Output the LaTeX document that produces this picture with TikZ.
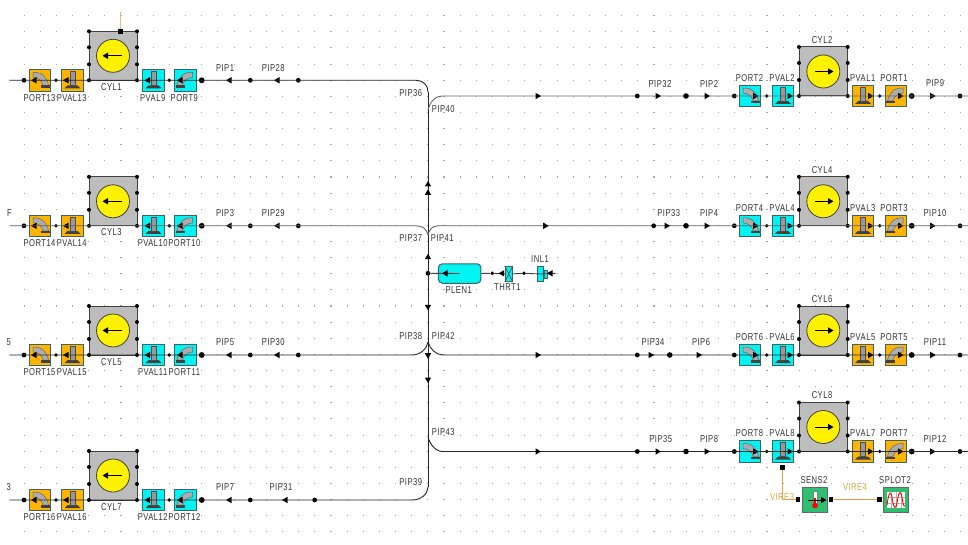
\documentclass[tikz,border=0pt]{standalone}
\usepackage{fontspec}
\setmainfont[FakeStretch=0.76,LetterSpace=5]{Liberation Sans}
\definecolor{orng}{HTML}{FFB400}
\definecolor{cyn}{HTML}{00F4F4}
\definecolor{boxedge}{HTML}{3C6464}
\definecolor{cylgrey}{HTML}{BDBDBD}
\definecolor{wiretan}{HTML}{D9A441}
\definecolor{sensgreen}{HTML}{2FBF71}
\newcommand{\tipL}[2]{\fill[black] (#1-3,#2) -- (#1+2.5,#2-3.2) -- (#1+2.5,#2+3.2) -- cycle;}
\newcommand{\tipR}[2]{\fill[black] (#1+3,#2) -- (#1-2.5,#2-3.2) -- (#1-2.5,#2+3.2) -- cycle;}
\newcommand{\tipU}[2]{\fill[black] (#1,#2-3) -- (#1-3.2,#2+2.5) -- (#1+3.2,#2+2.5) -- cycle;}
\newcommand{\tipD}[2]{\fill[black] (#1,#2+3) -- (#1-3.2,#2-2.5) -- (#1+3.2,#2-2.5) -- cycle;}
\tikzset{
  lab/.style={font=\fontsize{10}{11}\selectfont,text=black!80,inner sep=0pt},
  wlab/.style={lab,text=wiretan},
  iconbox/.style={draw=boxedge,line width=1pt,minimum size=21.5pt,inner sep=0pt},
  cylbox/.style={draw=black!75,line width=1pt,fill=cylgrey,minimum width=48pt,minimum height=49pt,inner sep=0pt},
  cylface/.style={circle,draw=black!75,line width=.8pt,fill=yellow,minimum size=33pt,inner sep=0pt},
  jdot/.style={circle,fill=black,minimum size=4.8pt,inner sep=0pt},
  bigdot/.style={circle,fill=black,minimum size=5.8pt,inner sep=0pt},
  sq/.style={rectangle,fill=black,minimum size=4.6pt,inner sep=0pt},
  pipe/.style={line width=.9pt,draw=#1},
  pipe/.default=black!85,
  wire/.style={line width=1pt,draw=wiretan},
  valveicon/.pic={
    \fill[black!75] (-8,8) -- (-5,5) -- (5,5) -- (8,8) -- cycle;
    \filldraw[fill=black!40,draw=black!70,line width=.5pt] (-2.3,-9) rectangle (2.3,5);
  },
  porticon/.pic={
    \filldraw[fill=black!32,draw=black!60,line width=.5pt] (-7,-8) .. controls (2,-8.5) and (7,-3) .. (8.5,5) -- (3,5) .. controls (2,0) and (-2,-2.5) .. (-7,-3) -- cycle;
    \fill[black!75] (1,5) rectangle (10,7.5);
  }
}
% ---------- left engine bank row
\newcommand{\bankleft}[9]{%
  \node[iconbox,fill=orng] (#2) at (40,#1+.2) {};
  \node[iconbox,fill=orng] (#3) at (72.5,#1+.2) {};
  \node[cylbox] (#4) at (113,#1-24.5) {};
  \node[iconbox,fill=cyn] (#5) at (153.5,#1+.2) {};
  \node[iconbox,fill=cyn] (#6) at (185.5,#1+.2) {};
  \pic at (40,#1) {porticon};
  \pic at (72.5,#1) {valveicon};
  \pic at (153.5,#1) {valveicon};
  \pic[xscale=-1] at (185.5,#1) {porticon};
  \foreach \sx in {89,137}{\foreach \sy in {0,16,33,49}{\fill[black] (\sx,#1-\sy) circle (2);}}
  \node[cylface] (#4f) at (113,#1-24.5) {};
  \draw[line width=1pt] (#4f.center)++(8.7,0) -- ++(-15,0);
  \tipL{105.5}{#1-24.5}
  \coordinate (#2s) at (9.3,#1);
  \node[jdot] (#2a) at (24,#1) {};
  \node[jdot,minimum size=3.8pt] (#2b) at (56,#1) {};
  \node[jdot,minimum size=3.8pt] (#5b) at (169.3,#1) {};
  \node[bigdot] (#6a) at (201.7,#1) {};
  \node[jdot] (#6b) at (250.3,#1) {};
  \node[jdot] (#6c) at ({298.3+#9*2.05},#1) {};
  \tipL{34}{#1}\tipL{66}{#1}\tipL{147.5}{#1}\tipL{180}{#1}
  \tipL{229}{#1}\tipL{277+#9}{#1}
  \node[lab] (#2l) at (39.5,#1+17.3) {#2};
  \node[lab] (#3l) at (71.7,#1+17.3) {#3};
  \node[lab] (#4l) at (111.3,#1+6.7) {#4};
  \node[lab] (#5l) at (152.7,#1+17.3) {#5};
  \node[lab] (#6l) at (184.3,#1+17.3) {#6};
  \node[lab] (#7) at (225,#1-12.7) {#7};
  \node[lab] (#8) at ({273.3+#9*.96},#1-12.7) {#8};
}
% ---------- right engine bank row
\newcommand{\bankright}[6]{%
  \node[iconbox,fill=cyn] (#2) at (750,#1+.2) {};
  \node[iconbox,fill=cyn] (#3) at (783,#1+.2) {};
  \node[cylbox] (#4) at (823.3,#1-24.5) {};
  \node[iconbox,fill=orng] (#5) at (863,#1+.2) {};
  \node[iconbox,fill=orng] (#6) at (896,#1+.2) {};
  \pic at (750,#1) {porticon};
  \pic at (783,#1) {valveicon};
  \pic at (863,#1) {valveicon};
  \pic[xscale=-1] at (896,#1) {porticon};
  \foreach \sx in {799,847.7}{\foreach \sy in {0,16,33,49}{\fill[black] (\sx,#1-\sy) circle (2);}}
  \node[cylface] (#4f) at (823.3,#1-24.5) {};
  \draw[line width=1pt] (#4f.center)++(-8.5,0) -- ++(15,0);
  \tipR{830.5}{#1-24.5}
  \node[jdot] (#2a) at (734.3,#1) {};
  \node[jdot,minimum size=3.8pt] (#2b) at (766.7,#1) {};
  \node[jdot,minimum size=3.8pt] (#5b) at (879.7,#1) {};
  \node[bigdot] (#6a) at (911.7,#1) {};
  \node[jdot] (#6b) at (960,#1) {};
  \coordinate (#6e) at (968,#1);
  \tipR{755.5}{#1}\tipR{790}{#1}\tipR{870.5}{#1}\tipR{900.5}{#1}\tipR{932.7}{#1}
  \node[lab] (#2l) at (749.5,#1-18) {#2};
  \node[lab] (#3l) at (782,#1-18) {#3};
  \node[lab] (#4l) at (822,#1-56) {#4};
  \node[lab] (#5l) at (862.7,#1-18) {#5};
  \node[lab] (#6l) at (894,#1-18) {#6};
}
\begin{document}
\begin{tikzpicture}[x=1pt,y=-1pt]
\useasboundingbox (0,0) rectangle (968,545);
\fill[white] (0,0) rectangle (968,545);
% grid
\foreach \i in {1,...,59}{\foreach \j in {1,...,33}{
  \fill[black!35] ({8+16.15*\i-.6},{16.13*\j-1}) rectangle ++(1.1,1.1);
}}
% ---- left rows
\bankleft{80.3}{PORT13}{PVAL13}{CYL1}{PVAL9}{PORT9}{PIP1}{PIP28}{0}
\bankleft{225.8}{PORT14}{PVAL14}{CYL3}{PVAL10}{PORT10}{PIP3}{PIP29}{0}
\bankleft{355}{PORT15}{PVAL15}{CYL5}{PVAL11}{PORT11}{PIP5}{PIP30}{0}
\bankleft{500}{PORT16}{PVAL16}{CYL7}{PVAL12}{PORT12}{PIP7}{PIP31}{8}
% ---- right rows
\bankright{96}{PORT2}{PVAL2}{CYL2}{PVAL1}{PORT1}
\bankright{225.8}{PORT4}{PVAL4}{CYL4}{PVAL3}{PORT3}
\bankright{355}{PORT6}{PVAL6}{CYL6}{PVAL5}{PORT5}
\bankright{451.5}{PORT8}{PVAL8}{CYL8}{PVAL7}{PORT7}
% ---- trunk junction points
\coordinate (T0) at (428,92);
\coordinate (T1) at (428,110);
\coordinate (T2) at (428,235);
\node[jdot] (Tp) at (428,273.3) {};
\coordinate (T3) at (428,342);
\coordinate (T4) at (428,437);
\coordinate (T5) at (428,487);
\draw[pipe] (T0) -- (T5);
\tipU{428}{184}\tipU{428}{192.3}\tipU{428}{256.7}\tipD{428}{307.3}\tipD{428}{355.7}\tipD{428}{380}
% ---- left pipes
\draw[pipe] (PORT13s) -- (PORT9c.center) -- (416,80.3) .. controls (423,80.3) and (428,85) .. (T0);
\draw[pipe=black!62] (PORT14s) -- (PORT10c.center) -- (416,225.8) .. controls (422,225.8) and (427,229) .. (T2);
\draw[pipe] (PORT15s) -- (PORT11c.center) -- (412,355) .. controls (420,355) and (427,349) .. (T3);
\draw[pipe] (PORT16s) -- (PORT12c.center) -- (412,500) .. controls (421,500) and (428,494) .. (T5);
% ---- right pipes
\draw[pipe=black!60] (T1) .. controls (430,102) and (435,96) .. (442,96) -- (PORT2a.center) -- (PORT1e);
\draw[pipe=black!62] (T2) .. controls (429,230) and (432,225.8) .. (438,225.8) -- (PORT4a.center) -- (PORT3e);
\draw[pipe] (T3) .. controls (430,349) and (436,355) .. (443,355) -- (PORT6a.center) -- (PORT5e);
\draw[pipe] (T4) .. controls (430,444) and (435,451.5) .. (443,451.5) -- (PORT8a.center) -- (PORT7e);
% ---- right runner dots and arrows
\node[jdot] (R1a) at (637.3,96) {}; \node[jdot,minimum size=5.6pt] (R1b) at (686,96) {};
\node[jdot] (R2a) at (653.7,225.8) {}; \node[jdot,minimum size=5.6pt] (R2b) at (686,225.8) {};
\node[jdot] (R3a) at (637.3,355) {}; \node[jdot,minimum size=5.6pt] (R3b) at (669.7,355) {};
\node[jdot] (R4a) at (637.3,451.5) {}; \node[jdot,minimum size=5.6pt] (R4b) at (686,451.5) {};
\tipR{538}{96}\tipR{658}{96}\tipR{707}{96}
\tipR{545.7}{225.8}\tipR{667}{225.8}\tipR{707}{225.8}
\tipR{538}{355}\tipR{651}{355}\tipR{699}{355}
\tipR{538}{451.5}\tipR{658}{451.5}\tipR{707}{451.5}
% ---- pipe labels
\node[lab] (PIP36) at (410.7,92.7) {PIP36};
\node[lab] (PIP40) at (443.3,109.3) {PIP40};
\node[lab] (PIP37) at (410.7,238.3) {PIP37};
\node[lab] (PIP41) at (442.3,238.3) {PIP41};
\node[lab] (PIP38) at (410.7,335.7) {PIP38};
\node[lab] (PIP42) at (443.3,335.7) {PIP42};
\node[lab] (PIP43) at (443.3,432.3) {PIP43};
\node[lab] (PIP39) at (410.7,481.7) {PIP39};
\node[lab] (PIP32) at (660,84) {PIP32};
\node[lab] (PIP2) at (709,84) {PIP2};
\node[lab] (PIP33) at (668.7,213) {PIP33};
\node[lab] (PIP4) at (709,213) {PIP4};
\node[lab] (PIP34) at (653,342) {PIP34};
\node[lab] (PIP6) at (701,342) {PIP6};
\node[lab] (PIP35) at (660.7,438.7) {PIP35};
\node[lab] (PIP8) at (709,438.7) {PIP8};
\node[lab] (PIP9) at (935,83.3) {PIP9};
\node[lab] (PIP10) at (935,213) {PIP10};
\node[lab] (PIP11) at (935,342) {PIP11};
\node[lab] (PIP12) at (935,439) {PIP12};
% clipped label ends at the left edge
\node[lab,anchor=east] (cutA) at (12,213) {F};
\node[lab,anchor=east] (cutB) at (11,342) {5};
\node[lab,anchor=east] (cutC) at (11,487) {3};
% ---- plenum, throttle, inlet
\node[draw=boxedge,line width=1pt,rounded corners=4pt,fill=cyn,minimum width=42.5pt,minimum height=19.5pt,inner sep=0pt] (PLEN1) at (459.7,273.5) {};
\node[draw=boxedge,line width=1pt,fill=cyn,minimum width=7pt,minimum height=15pt,inner sep=0pt] (THRT1) at (508.8,274) {};
\draw[line width=.7pt,black!70] (THRT1.north west) -- (THRT1.south east) (THRT1.north east) -- (THRT1.south west);
\node[draw=boxedge,line width=1pt,fill=cyn,minimum width=6.5pt,minimum height=15pt,inner sep=0pt] (INL1) at (540.7,274) {};
\node[draw=boxedge,line width=.7pt,fill=cyn,minimum width=3.5pt,minimum height=8pt,inner sep=0pt] (INL1b) at (546,274) {};
\node[jdot,minimum size=3.8pt] (Ja) at (492.3,273.3) {};
\node[jdot,minimum size=3.8pt] (Jb) at (524,273.3) {};
\coordinate (Je) at (555.7,273.3);
\draw[pipe=black!75] (Tp) -- (PLEN1.center) (PLEN1) -- (Ja) -- (THRT1) -- (Jb) -- (INL1.center) -- (Je);
\tipL{445}{273.3}\tipL{501.7}{273.3}\tipL{550}{273.3}
\node[lab] (lPLEN1) at (458.7,290.3) {PLEN1};
\node[lab] (lTHRT1) at (507.3,287.3) {THRT1};
\node[lab] (lINL1) at (540,259) {INL1};
% ---- sensor and plot
\node[sq,minimum size=5.5pt] (S0) at (782.3,467.3) {};
\node[draw=black!60,line width=1pt,fill=sensgreen,minimum size=25pt,inner sep=0pt] (SENS2) at (815,500) {};
\node[draw=black!60,line width=1pt,fill=sensgreen,minimum size=25pt,inner sep=0pt] (SPLOT2) at (895.8,500) {};
\node[sq] (S1) at (798,499.7) {};
\node[sq] (S2) at (831,499.7) {};
\node[sq] (S3) at (879.3,499.7) {};
\draw[wire] (S0) |- (S1);
\draw[wire] (S2) -- (S3);
\filldraw[fill=white,draw=black!50,line width=.4pt] (813.3,491) rectangle (816.7,505);
\fill[red] (815,505.5) circle (2.8);
\fill[red] (814.1,498) rectangle (815.9,505);
\draw[line width=.8pt] (808,500) -- (822,500);
\tipR{823.5}{500}
\fill[white] (886.5,492) rectangle (905,508);
\draw[black!30,line width=.3pt] (891,492) -- (891,508) (896,492) -- (896,508) (901,492) -- (901,508) (886.5,497) -- (905,497) (886.5,503) -- (905,503);
\draw[red,line width=.9pt] (887,505) .. controls (889,490) and (891,490) .. (892.5,500) .. controls (894,510) and (896,510) .. (897.5,500) .. controls (899,490) and (901,490) .. (902.5,500) .. controls (903.5,506) and (904,507) .. (905,506);
\node[lab] (lSENS2) at (814,480) {SENS2};
\node[lab] (lSPLOT2) at (895,480) {SPLOT2};
\node[wlab] (VIRE3) at (782,496.7) {VIRE3};
\node[wlab] (VIRE4) at (855,487.3) {VIRE4};
% ---- wire stub above CYL1
\coordinate (W0) at (120.7,12);
\node[sq] (W1) at (120.7,31.3) {};
\draw[line width=1pt,draw=wiretan!70] (W0) -- (W1);
\end{tikzpicture}
\end{document}
